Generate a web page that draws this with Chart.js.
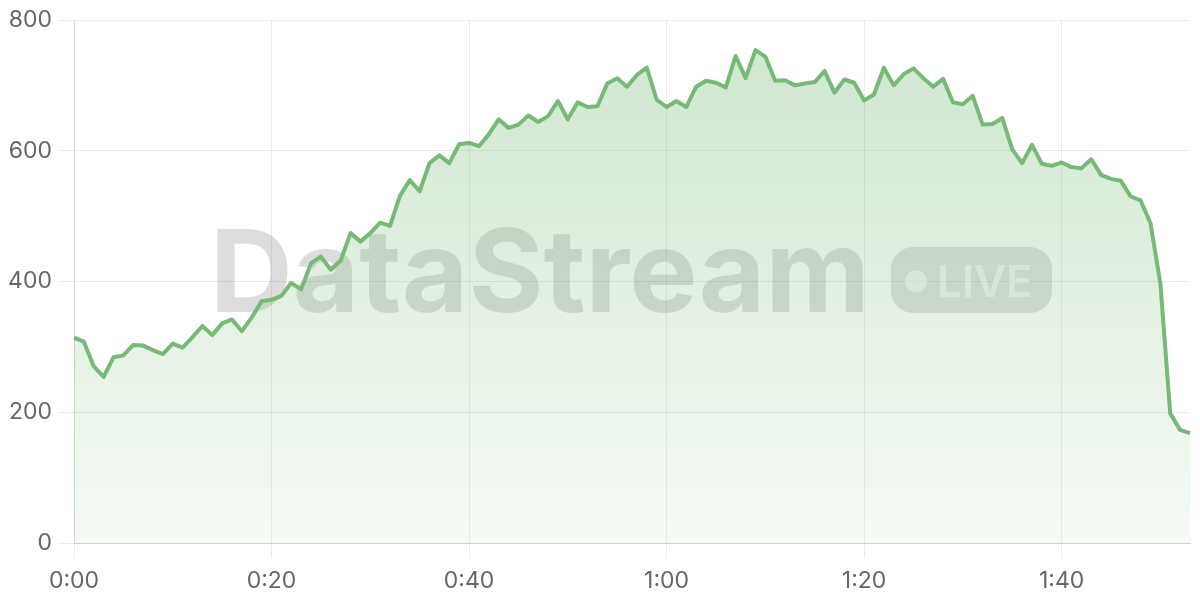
<!DOCTYPE html>
<html>
<head>
<meta charset="utf-8">
<script src="https://cdn.jsdelivr.net/npm/chart.js@4.4.0/dist/chart.umd.min.js"></script>
<style>
html,body{margin:0;padding:0;background:#ffffff;}
#wrap{width:1200px;height:600px;position:relative;}
</style>
</head>
<body>
<div id="wrap"><canvas id="c"></canvas></div>
<script>
// ---- data ----
const timeLabels = [
 "0:00","0:01","0:02","0:03","0:04","0:05","0:06","0:07","0:08","0:09",
 "0:10","0:11","0:12","0:13","0:14","0:15","0:16","0:17","0:18","0:19",
 "0:20","0:21","0:22","0:23","0:24","0:25","0:26","0:27","0:28","0:29",
 "0:30","0:31","0:32","0:33","0:34","0:35","0:36","0:37","0:38","0:39",
 "0:40","0:41","0:42","0:43","0:44","0:45","0:46","0:47","0:48","0:49",
 "0:50","0:51","0:52","0:53","0:54","0:55","0:56","0:57","0:58","0:59",
 "1:00","1:01","1:02","1:03","1:04","1:05","1:06","1:07","1:08","1:09",
 "1:10","1:11","1:12","1:13","1:14","1:15","1:16","1:17","1:18","1:19",
 "1:20","1:21","1:22","1:23","1:24","1:25","1:26","1:27","1:28","1:29",
 "1:30","1:31","1:32","1:33","1:34","1:35","1:36","1:37","1:38","1:39",
 "1:40","1:41","1:42","1:43","1:44","1:45","1:46","1:47","1:48","1:49",
 "1:50","1:51","1:52","1:53"
];
const viewers = [
 314,308,270,254,284,287,303,302,295,289,
 305,299,315,332,318,336,342,324,345,370,
 372,378,398,388,428,438,418,432,474,461,
 474,490,485,531,555,538,581,593,581,610,
 612,607,625,648,635,640,654,644,653,676,
 648,674,667,668,703,711,698,716,727,678,
 667,676,667,698,707,704,697,745,711,754,
 744,707,708,700,703,705,722,689,709,704,
 677,686,727,700,717,726,711,698,710,674,
 671,684,640,641,650,602,581,609,580,577,
 582,575,573,587,563,557,554,530,524,489,
 397,198,173,168
];
const xTickLabels = ["0:00","0:20","0:40","1:00","1:20","1:40"];
const yTicks = [0,200,400,600,800];
const watermarkText = "DataStream";
const badgeText = "LIVE";

// ---- styles ----
const GREEN = "rgb(118,186,118)";
const TICK_FONT = {family: "Inter", size: 23};
const TICK_COLOR = "#666666";

const watermark = {
  id: "watermark",
  beforeDatasetsDraw(chart) {
    const {ctx, chartArea: a} = chart;
    const cx = (a.left + a.right) / 2;
    const cy = (a.top + a.bottom) / 2;
    ctx.save();
    ctx.font = "bold 100px Inter";
    const w100 = ctx.measureText(watermarkText).width;
    const size = 100 * 660 / w100;
    ctx.font = "bold " + size + "px Inter";
    ctx.fillStyle = "rgba(0,0,0,0.135)";
    ctx.textBaseline = "alphabetic";
    ctx.textAlign = "left";
    ctx.fillText(watermarkText, cx - 422, cy + 30.5);
    const px = cx + 259, py = cy - 34.5, pw = 161, ph = 66, r = 22;
    ctx.beginPath();
    ctx.moveTo(px + r, py);
    ctx.lineTo(px + pw - r, py);
    ctx.arcTo(px + pw, py, px + pw, py + r, r);
    ctx.lineTo(px + pw, py + ph - r);
    ctx.arcTo(px + pw, py + ph, px + pw - r, py + ph, r);
    ctx.lineTo(px + r, py + ph);
    ctx.arcTo(px, py + ph, px, py + ph - r, r);
    ctx.lineTo(px, py + r);
    ctx.arcTo(px, py, px + r, py, r);
    ctx.closePath();
    ctx.fillStyle = "rgba(0,0,0,0.12)";
    ctx.fill();
    ctx.fillStyle = "rgba(255,255,255,0.6)";
    ctx.beginPath();
    ctx.arc(px + 25, cy, 11, 0, Math.PI * 2);
    ctx.fill();
    ctx.font = "600 44px Inter";
    ctx.fillText(badgeText, px + 46, cy + 15);
    ctx.restore();
  }
};

new Chart(document.getElementById("c"), {
  type: "line",
  data: {
    labels: timeLabels,
    datasets: [{
      data: viewers,
      borderColor: GREEN,
      borderWidth: 4,
      borderJoinStyle: "round",
      pointRadius: 0,
      tension: 0,
      fill: "origin",
      backgroundColor: (c) => {
        const a = c.chart.chartArea;
        if (!a) return "rgba(118,186,118,0.2)";
        const g = c.chart.ctx.createLinearGradient(0, a.top, 0, a.bottom);
        g.addColorStop(0, "rgba(118,186,118,0.36)");
        g.addColorStop(1, "rgba(118,186,118,0.07)");
        return g;
      }
    }]
  },
  options: {
    responsive: true,
    maintainAspectRatio: false,
    animation: false,
    layout: {padding: {top: 20, right: 10, left: 0, bottom: 0}},
    plugins: {legend: {display: false}, tooltip: {enabled: false}},
    scales: {
      x: {
        type: "category",
        grid: {color: "rgba(0,0,0,0.08)", tickLength: 15},
        border: {color: "#d0d0d0", width: 1},
        ticks: {
          autoSkip: false, maxRotation: 0, minRotation: 0,
          font: TICK_FONT, color: TICK_COLOR, padding: 9,
          callback: function (v, i) {
            const l = timeLabels[i];
            return xTickLabels.includes(l) ? l : null;
          }
        },
        afterFit: (s) => { s.height = 57; }
      },
      y: {
        min: yTicks[0], max: yTicks[yTicks.length - 1],
        grid: {color: "rgba(0,0,0,0.08)", tickLength: 16},
        border: {color: "#d6d6d6", width: 1},
        ticks: {stepSize: 200, font: TICK_FONT, color: TICK_COLOR, padding: 6},
        afterFit: (s) => { s.width = 74; }
      }
    }
  },
  plugins: [watermark]
});
</script>
</body>
</html>
